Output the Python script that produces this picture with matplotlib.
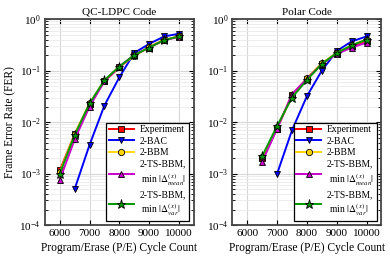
import numpy as np
import matplotlib
matplotlib.use('Agg')
import matplotlib.pyplot as plt

plt.rcParams['font.family'] = ['Liberation Serif', 'DejaVu Serif']
plt.rcParams['mathtext.fontset'] = 'stix'

pe = [6000, 6500, 7000, 7500, 8000, 8500, 9000, 9500, 10000]

# QC-LDPC
ldpc_exp = [1.15e-3, 5.8e-3, 2.2e-2, 6.2e-2, 1.15e-1, 2.0e-1, 2.8e-1, 3.9e-1, 4.6e-1]
ldpc_bac = [np.nan, 5.0e-4, 3.6e-3, 2.1e-2, 7.4e-2, 2.2e-1, 3.3e-1, 4.6e-1, 5.2e-1]
ldpc_bbm = [1.05e-3, 5.8e-3, 2.3e-2, 6.4e-2, 1.2e-1, 1.9e-1, 2.9e-1, 4.0e-1, 4.6e-1]
ldpc_mean = [7.5e-4, 4.6e-3, 2.0e-2, 6.2e-2, 1.2e-1, 2.0e-1, 2.8e-1, 3.9e-1, 4.5e-1]
ldpc_var = [1.0e-3, 5.6e-3, 2.3e-2, 6.5e-2, 1.2e-1, 2.0e-1, 2.8e-1, 3.9e-1, 4.6e-1]

# Polar
polar_exp = [np.nan, 2.0e-3, 7.5e-3, 3.4e-2, 6.8e-2, 1.35e-1, 2.2e-1, 3.0e-1, 3.8e-1]
polar_bac = [np.nan, np.nan, 1.0e-3, 7.0e-3, 3.2e-2, 1.0e-1, 2.4e-1, 3.7e-1, 4.6e-1]
polar_bbm = [np.nan, 2.1e-3, 8.0e-3, 3.2e-2, 7.2e-2, 1.4e-1, 2.2e-1, 3.1e-1, 4.0e-1]
polar_mean = [np.nan, 1.7e-3, 7.5e-3, 3.5e-2, 7.0e-2, 1.35e-1, 2.1e-1, 2.8e-1, 3.5e-1]
polar_var = [np.nan, 2.2e-3, 8.5e-3, 3.0e-2, 6.6e-2, 1.35e-1, 2.2e-1, 3.1e-1, 4.0e-1]

labels = ['Experiment', '2-BAC', '2-BBM',
          '2-TS-BBM,\n min $|\\Delta^{(x)}_{mean}|$',
          '2-TS-BBM,\n min $|\\Delta^{(x)}_{var}|$']
colors = ['#ff0000', '#0000ff', '#ffd700', '#cc00cc', '#009900']
markers = ['s', 'v', 'o', '^', '*']
msizes = [4.5, 5, 4.5, 5, 6.5]

fig, axes = plt.subplots(1, 2, figsize=(3.9, 2.62), dpi=100)
fig.subplots_adjust(left=0.115, right=0.978, top=0.927, bottom=0.141, wspace=0.26)

panels = [('QC-LDPC Code', [ldpc_exp, ldpc_bac, ldpc_bbm, ldpc_mean, ldpc_var]),
          ('Polar Code', [polar_exp, polar_bac, polar_bbm, polar_mean, polar_var])]

for ax, (title, series) in zip(axes, panels):
    for y, lab, c, m, ms in zip(series, labels, colors, markers, msizes):
        ax.plot(pe, y, color=c, marker=m, ms=ms, mfc=c, mec='black', mew=0.6,
                lw=1.4, label=lab)
    ax.set_yscale('log')
    ax.set_ylim(1e-4, 1)
    ax.set_xlim(5500, 10500)
    ax.set_xticks([6000, 7000, 8000, 9000, 10000])
    ax.grid(True, which='major', color='#d8d8d8', lw=0.8)
    ax.grid(True, which='minor', color='#eaeaea', lw=0.6)
    ax.set_axisbelow(True)
    ax.tick_params(which='both', direction='in', top=True, right=True,
                   labelsize=8, pad=3)
    for s in ax.spines.values():
        s.set_color('#444444')
        s.set_linewidth(1.3)
    ax.set_title(title, fontsize=8, pad=3)
    ax.set_xlabel('Program/Erase (P/E) Cycle Count', fontsize=8.3, labelpad=3)
    leg = ax.legend(loc='lower right', fontsize=6.9, fancybox=False,
                    edgecolor='black', framealpha=1, borderaxespad=0.45,
                    handlelength=2.6, labelspacing=0.25, borderpad=0.3,
                    handletextpad=0.6)
    leg.get_frame().set_linewidth(0.9)

axes[0].set_ylabel('Frame Error Rate (FER)', fontsize=8.3, labelpad=2)

fig.savefig('out.png', dpi=100)
